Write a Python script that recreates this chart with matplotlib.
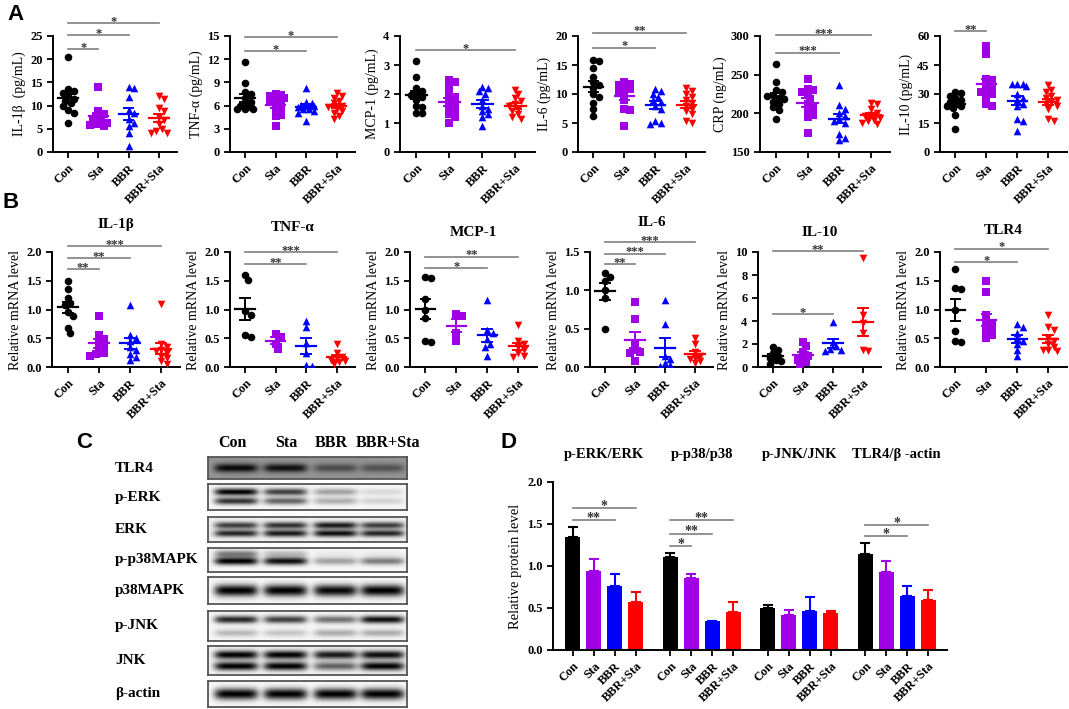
import numpy as np
import matplotlib.pyplot as plt

plt.rcParams['font.family'] = ['Liberation Serif', 'DejaVu Serif']
plt.rcParams['font.weight'] = 'bold'
plt.rcParams['axes.linewidth'] = 1.4

W, H = 1069, 709

groups = ['Con', 'Sta', 'BBR', 'BBR+Sta']
colors = ['#000000', '#A100E6', '#0000FF', '#FF0000']
markers = ['o', 's', '^', 'v']

# ---- panel A: serum levels ----
a_il1b = [[20.5, 13.5, 13.2, 12.8, 12.0, 11.5, 11.0, 10.5, 10.0, 9.0, 8.3, 6.3],
          [14.1, 8.8, 8.2, 7.8, 7.2, 6.8, 6.3, 6.0, 5.8, 5.6],
          [14.0, 13.8, 11.8, 9.0, 8.5, 7.2, 6.3, 5.5, 4.2, 1.2],
          [12.0, 11.5, 9.5, 8.8, 7.5, 6.8, 6.0, 5.0, 4.5, 4.2, 4.0]]
a_tnf = [[11.6, 8.9, 7.8, 7.5, 7.0, 6.5, 6.2, 6.0, 5.8, 5.6, 5.5, 5.5],
         [7.5, 7.4, 7.2, 7.0, 6.8, 6.5, 6.3, 6.0, 5.5, 5.3, 4.8, 4.6, 3.3],
         [8.3, 6.5, 6.3, 6.1, 6.0, 5.9, 5.8, 5.6, 5.5, 5.3, 5.0, 4.0],
         [7.6, 7.3, 7.0, 6.6, 6.3, 6.0, 5.8, 5.6, 5.3, 5.0, 4.6, 4.3]]
a_mcp = [[3.15, 2.6, 2.2, 2.1, 2.0, 1.95, 1.9, 1.8, 1.6, 1.55, 1.35, 1.35],
         [2.5, 2.4, 2.2, 2.0, 1.9, 1.7, 1.6, 1.5, 1.4, 1.3, 1.2, 1.0],
         [2.25, 2.2, 2.1, 2.0, 1.8, 1.6, 1.5, 1.4, 1.3, 1.2, 0.9],
         [2.15, 2.0, 1.85, 1.75, 1.65, 1.6, 1.5, 1.4, 1.3, 1.2, 1.15]]
a_il6 = [[15.8, 15.7, 14.5, 13.0, 12.0, 11.5, 11.0, 10.0, 9.5, 8.5, 7.5, 6.2],
         [12.0, 11.8, 11.5, 11.2, 10.8, 10.5, 10.0, 9.0, 7.5, 7.3, 4.4],
         [10.8, 10.5, 10.0, 9.5, 9.0, 8.7, 8.0, 7.5, 5.3, 5.0, 4.9],
         [11.0, 10.5, 10.0, 9.5, 9.0, 8.5, 8.0, 7.5, 7.0, 6.5, 5.3, 5.0]]
a_crp = [[264, 240, 230, 227, 224, 222, 220, 218, 215, 212, 208, 204, 193],
         [244, 232, 230, 228, 224, 218, 212, 208, 203, 198, 195, 174],
         [236, 211, 206, 200, 196, 193, 190, 188, 173, 168, 165],
         [214, 212, 205, 200, 198, 196, 194, 192, 190, 188, 186]]
a_il10 = [[31, 30.5, 29, 28, 27, 26, 25, 24, 24, 23, 19, 12],
          [55, 50.5, 38, 37, 35, 33, 32, 31, 30, 29, 25, 24],
          [35, 35, 35, 34, 30, 28, 27, 25, 24, 17, 16, 11],
          [34.5, 32, 31, 29, 28, 27, 26, 25, 24, 22, 17, 16]]

a_ylabels = ['IL-1β  (pg/mL)', 'TNF-α (pg/mL)', 'MCP-1 (pg/mL)',
             'IL-6 (pg/mL)', 'CRP (ng/mL)', 'IL-10 (pg/mL)']
a_yticks = [[0, 5, 10, 15, 20, 25], [0, 3, 6, 9, 12, 15], [0, 1, 2, 3, 4],
            [0, 5, 10, 15, 20], [150, 200, 250, 300], [0, 15, 30, 45, 60]]
a_sig = [[(0, 3, 27.8, '*'), (0, 2, 25.2, '*'), (0, 1, 22.2, '*')],
         [(0, 3, 14.9, '*'), (0, 2, 13.1, '*')],
         [(0, 3, 3.52, '*')],
         [(0, 3, 20.6, '**'), (0, 2, 18.0, '*')],
         [(0, 3, 301, '***'), (0, 2, 278.6, '***')],
         [(0, 1, 62.6, '**')]]

# ---- panel B: mRNA levels ----
b_il1b = [[1.5, 1.35, 1.2, 1.12, 1.08, 0.95, 0.88, 0.68, 0.6],
          [0.88, 0.55, 0.48, 0.42, 0.38, 0.3, 0.25, 0.22, 0.2],
          [1.07, 0.55, 0.5, 0.45, 0.35, 0.3, 0.22, 0.18, 0.12],
          [1.09, 0.4, 0.35, 0.3, 0.28, 0.25, 0.2, 0.15, 0.1, 0.05]]
b_tnf = [[1.6, 1.52, 0.97, 0.9, 0.55, 0.53],
         [0.58, 0.52, 0.4, 0.32],
         [0.8, 0.7, 0.42, 0.25, 0.03, 0.02],
         [0.4, 0.25, 0.18, 0.15, 0.12, 0.1, 0.08, 0.05]]
b_mcp = [[1.57, 1.55, 1.18, 1.0, 0.85, 0.46, 0.43],
         [0.93, 0.88, 0.6, 0.45],
         [1.17, 0.65, 0.6, 0.48, 0.4, 0.35, 0.2],
         [0.73, 0.45, 0.4, 0.35, 0.3, 0.25, 0.2, 0.18]]
b_il6 = [[1.22, 1.18, 1.12, 1.0, 0.9, 0.49],
         [0.85, 0.63, 0.3, 0.22, 0.2, 0.18, 0.08],
         [0.87, 0.56, 0.15, 0.1, 0.05, 0.02, 0.01],
         [0.38, 0.3, 0.2, 0.15, 0.12, 0.1, 0.08, 0.05]]
b_il10 = [[1.7, 1.5, 1.2, 1.0, 0.8, 0.6, 0.5, 0.3],
          [2.2, 1.8, 1.3, 1.0, 0.8, 0.6, 0.4, 0.2],
          [3.9, 2.2, 1.8, 1.6, 1.5, 1.4],
          [9.5, 4.5, 3.8, 3.0, 1.5, 1.4]]
b_tlr4 = [[1.7, 1.38, 1.35, 1.0, 0.62, 0.45, 0.43],
          [1.5, 1.3, 0.9, 0.8, 0.75, 0.7, 0.65, 0.6, 0.55, 0.5],
          [0.75, 0.7, 0.6, 0.5, 0.45, 0.4, 0.3, 0.2],
          [0.9, 0.7, 0.65, 0.5, 0.45, 0.4, 0.35, 0.3, 0.3, 0.28]]

b_titles = ['IL-1β', 'TNF-α', 'MCP-1', 'IL-6', 'IL-10', 'TLR4']
b_yticks = [[0, 0.5, 1.0, 1.5, 2.0], [0, 0.5, 1.0, 1.5, 2.0], [0, 0.5, 1.0, 1.5, 2.0],
            [0, 0.5, 1.0, 1.5], [0, 2, 4, 6, 8, 10], [0, 0.5, 1.0, 1.5, 2.0]]
b_sig = [[(0, 3, 2.11, '***'), (0, 2, 1.90, '**'), (0, 1, 1.70, '**')],
         [(0, 3, 2.0, '***'), (0, 2, 1.79, '**')],
         [(0, 3, 1.92, '**'), (0, 2, 1.72, '*')],
         [(0, 3, 1.63, '***'), (0, 2, 1.48, '***'), (0, 1, 1.34, '**')],
         [(0, 3, 10.1, '**'), (0, 2, 4.64, '*')],
         [(0, 3, 2.06, '*'), (0, 2, 1.83, '*')]]

# ---- panel C: western blot band intensities (lanes Con, Sta, BBR, BBR+Sta) ----
blot_names = ['TLR4', 'p-ERK', 'ERK', 'p-p38MAPK', 'p38MAPK', 'p-JNK', 'JNK', 'β-actin']
blot_bg = [0.42, 0.03, 0.06, 0.03, 0.03, 0.03, 0.05, 0.03]
blot_bands = [
    [(0.5, [0.95, 0.9, 0.5, 0.45])],
    [(0.3, [1.0, 0.75, 0.35, 0.12]), (0.66, [0.8, 0.6, 0.3, 0.15])],
    [(0.33, [0.75, 0.8, 0.9, 0.75]), (0.66, [0.85, 0.9, 0.95, 0.85])],
    [(0.24, [0.5, 0.25, 0.05, 0.05]), (0.55, [1.0, 0.95, 0.35, 0.5])],
    [(0.5, [1.0, 1.0, 0.97, 1.0])],
    [(0.28, [0.85, 0.75, 0.55, 0.95]), (0.74, [0.25, 0.2, 0.3, 0.3])],
    [(0.3, [1.0, 1.0, 0.9, 0.95]), (0.7, [1.0, 1.0, 0.6, 1.0])],
    [(0.5, [1.0, 1.0, 1.0, 1.0])],
]
blot_width = [0.2, 0.14, 0.14, 0.16, 0.22, 0.13, 0.15, 0.22]

# ---- panel D: protein ratios ----
d_titles = ['p-ERK/ERK', 'p-p38/p38', 'p-JNK/JNK', 'TLR4/β -actin']
d_means = [[1.34, 0.94, 0.756, 0.57], [1.11, 0.855, 0.34, 0.45],
           [0.495, 0.42, 0.467, 0.435], [1.145, 0.93, 0.645, 0.60]]
d_sem = [[0.125, 0.14, 0.145, 0.12], [0.05, 0.055, 0.01, 0.125],
         [0.045, 0.06, 0.163, 0.032], [0.125, 0.127, 0.119, 0.117]]
d_sig = [[(0, 3, 1.69, '*'), (0, 2, 1.55, '**')],
         [(0, 3, 1.545, '**'), (0, 2, 1.386, '**'), (0, 1, 1.236, '*')],
         [],
         [(0, 3, 1.485, '*'), (0, 2, 1.354, '*')]]


def box(l, t, r, b):
    return [l / W, 1 - b / H, (r - l) / W, (b - t) / H]


def style_axes(ax):
    for s in ['top', 'right']:
        ax.spines[s].set_visible(False)
    ax.tick_params(direction='out', length=4, width=1.3, labelsize=9)


def swarm(vals, px_unit_y, step=0.09, px_unit_x=30.0, size=5.0, max_off=0.3):
    # simple deterministic dot spreading, like Prism scatter dot plots
    cands = [0.0]
    k = 1
    while k * step <= max_off + 1e-9:
        cands += [k * step, -k * step]
        k += 1
    placed = []
    offs = []
    for v in vals:
        best, best_d = 0.0, -1
        for c in cands:
            dmin = 1e9
            for (px, py) in placed:
                dx = (c - px) * px_unit_x
                dy = (v - py) * px_unit_y
                dmin = min(dmin, np.hypot(dx, dy))
            if dmin >= size:
                best = c
                break
            if dmin > best_d:
                best, best_d = c, dmin
        placed.append((best, v))
        offs.append(best)
    return offs


def add_sig(ax, sig, fs=9):
    for i, j, y, lab in sig:
        ax.plot([i, j], [y, y], color='#7f7f7f', lw=1.2, clip_on=False)
        ax.annotate(lab, ((i + j) / 2, y), xytext=(0, -3.5), textcoords='offset points',
                    ha='center', va='bottom', fontsize=fs, color='#333333',
                    annotation_clip=False)


def dot_plot(ax, data, yticks, sig, ylabel=None, fmt='{:g}'):
    lo, hi = yticks[0], yticks[-1]
    pxy = 115.0 / (hi - lo)
    for i, vals in enumerate(data):
        vals = np.array(vals, dtype=float)
        sv = sorted(vals, reverse=True)
        xs = i + np.array(swarm(sv, pxy))
        ax.scatter(xs, sv, s=30, marker=markers[i], color=colors[i], zorder=3,
                   linewidths=0)
        m = vals.mean()
        se = vals.std(ddof=1) / np.sqrt(len(vals))
        ax.plot([i - 0.32, i + 0.32], [m, m], color=colors[i], lw=1.6, zorder=4)
        ax.plot([i, i], [m - se, m + se], color=colors[i], lw=1.4, zorder=4)
        for yy in (m - se, m + se):
            ax.plot([i - 0.16, i + 0.16], [yy, yy], color=colors[i], lw=1.4, zorder=4)
    ax.set_xlim(-0.5, 3.6)
    ax.set_ylim(lo, hi)
    ax.set_yticks(yticks)
    ax.set_yticklabels([fmt.format(t) for t in yticks])
    ax.set_xticks(range(4))
    ax.set_xticklabels(groups, rotation=45, ha='right', rotation_mode='anchor', fontsize=8.5)
    style_axes(ax)
    if ylabel:
        ax.set_ylabel(ylabel, fontsize=10, labelpad=3)
    add_sig(ax, sig)


fig = plt.figure(figsize=(W / 100, H / 100), dpi=100)

a_data = [a_il1b, a_tnf, a_mcp, a_il6, a_crp, a_il10]
a_boxes = [(53, 36, 177, 152), (230, 36, 355, 152), (400, 36, 535, 152),
           (578, 36, 705, 152), (760, 36, 890, 152), (940, 36, 1067, 152)]
for k in range(6):
    ax = fig.add_axes(box(*a_boxes[k]))
    dot_plot(ax, a_data[k], a_yticks[k], a_sig[k], a_ylabels[k])

b_data = [b_il1b, b_tnf, b_mcp, b_il6, b_il10, b_tlr4]
b_boxes = [(52, 252, 180, 367), (230, 252, 355, 367), (410, 252, 537, 367),
           (590, 252, 713, 367), (758, 252, 881, 367), (940, 252, 1067, 367)]
b_title_px = [225, 228, 233, 223, 233, 231]
for k in range(6):
    ax = fig.add_axes(box(*b_boxes[k]))
    fmt = '{:g}' if k == 4 else '{:.1f}'
    dot_plot(ax, b_data[k], b_yticks[k], b_sig[k], 'Relative mRNA level', fmt)
    fig.text((b_boxes[k][0] + b_boxes[k][2]) / 2 / W, 1 - b_title_px[k] / H, b_titles[k],
             ha='center', va='center', fontsize=11)

# panel C: blot strips
blot_rows = [(457, 479), (484, 510), (517, 542), (548, 572),
             (577, 604), (611, 641), (646, 675), (681, 707)]
lane_c = [0.14, 0.387, 0.638, 0.874]
xg = np.linspace(0, 1, 240)
for r, name in enumerate(blot_names):
    t, b = blot_rows[r]
    ax = fig.add_axes(box(208, t, 407, b))
    yg = np.linspace(0, 1, 40)
    img = np.zeros((len(yg), len(xg)))
    for ypos, ints in blot_bands[r]:
        px = np.zeros_like(xg)
        for c, v in zip(lane_c, ints):
            px += v * np.exp(-((xg - c) / 0.11) ** 6)
        py = np.exp(-((yg - ypos) / blot_width[r]) ** 2)
        img += np.outer(py, px)
    img = blot_bg[r] + (1 - blot_bg[r]) * np.clip(img, 0, 1)
    ax.imshow(img, cmap='gray_r', vmin=0, vmax=1, aspect='auto', extent=[0, 1, 1, 0])
    ax.set_xticks([])
    ax.set_yticks([])
    for s in ax.spines.values():
        s.set_color('#555555')
        s.set_linewidth(1.3)
    fig.text(115 / W, 1 - (t + b) / 2 / H, name, ha='left', va='center', fontsize=11)
for c, g in zip([232, 286, 331, 388], groups):
    fig.text(c / W, 1 - 443 / H, g, ha='center', va='center', fontsize=11.5)

# panel D: bars
axd = fig.add_axes(box(553, 482, 947, 650))
gap = 4.65
xt, xl = [], []
for g in range(4):
    for i in range(4):
        x = g * gap + i
        axd.bar(x, d_means[g][i], width=0.72, color=colors[i], zorder=2)
        axd.errorbar(x, d_means[g][i], yerr=[[0], [d_sem[g][i]]], fmt='none',
                     ecolor=colors[i], elinewidth=1.5, capsize=3.5, capthick=1.5, zorder=3)
        xt.append(x)
        xl.append(groups[i])
    add_sig(axd, [(g * gap + i, g * gap + j, y, lab) for i, j, y, lab in d_sig[g]], fs=10)
    axd.text(g * gap + 1.5, 2.33, d_titles[g], ha='center', va='center', fontsize=10.5)
axd.set_xlim(-0.95, 3 * gap + 3.9)
axd.set_ylim(0, 2.0)
axd.set_yticks([0, 0.5, 1.0, 1.5, 2.0])
axd.set_yticklabels(['0.0', '0.5', '1.0', '1.5', '2.0'])
axd.set_xticks(xt)
axd.set_xticklabels(xl, rotation=45, ha='right', rotation_mode='anchor', fontsize=8.5)
style_axes(axd)
axd.set_ylabel('Relative protein level', fontsize=10.5, labelpad=4)

# panel letters
for lab, (x, y) in zip('ABCD', [(16, 15), (11, 203), (84, 443), (508, 443)]):
    fig.text(x / W, 1 - y / H, lab, ha='center', va='center', fontsize=16,
             fontweight='bold', family='Liberation Sans')

fig.savefig('out.png', dpi=100)
